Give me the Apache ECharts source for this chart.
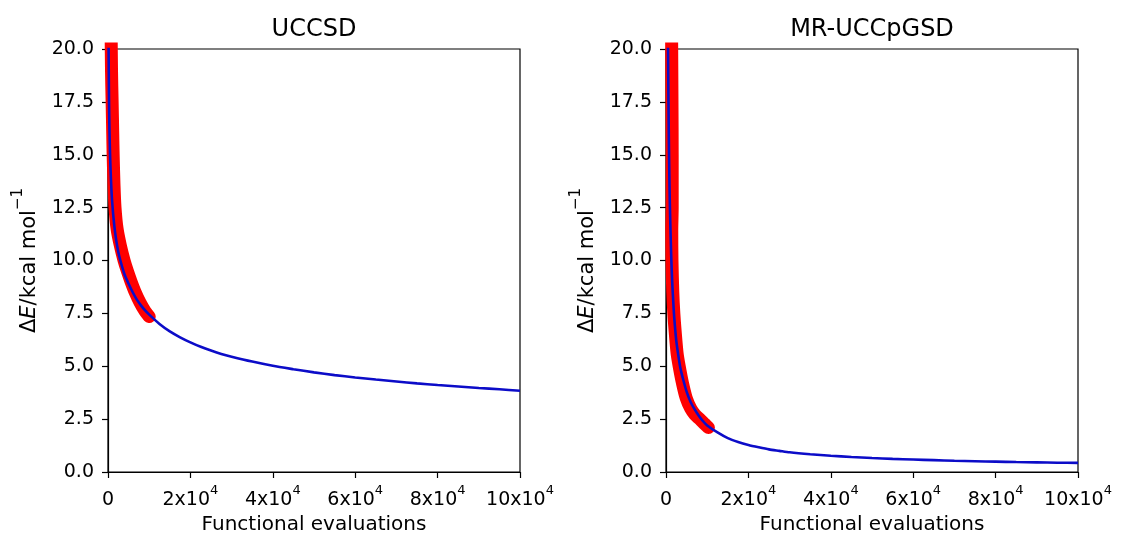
<!DOCTYPE html>
<html>
<head>
<meta charset="utf-8">
<script src="https://cdn.jsdelivr.net/npm/echarts@6/dist/echarts.min.js"></script>
<style>
  html, body { margin: 0; padding: 0; background: #fff; }
  #chart { width: 1121px; height: 538px; }
</style>
</head>
<body>
<div id="chart"></div>
<script>
// Panel titles and axis tick labels
const panelTitles = ['UCCSD', 'MR-UCCpGSD'];
const xTickLabels = ['0', '2x10^4', '4x10^4', '6x10^4', '8x10^4', '10x10^4'];
const yTickLabels = ['0.0', '2.5', '5.0', '7.5', '10.0', '12.5', '15.0', '17.5', '20.0'];

// UCCSD: sampled energy errors (red band) and fitted decay curve (blue)
const uccsdSamples = [
  [750, 21.0], [850, 19.0], [1000, 17.5], [1150, 16.0], [1250, 15.0], [1450, 13.6],
  [1700, 12.5], [2200, 11.5], [3000, 10.7], [3900, 10.0], [4700, 9.5], [5600, 9.0],
  [6600, 8.5], [7800, 8.0], [9000, 7.6], [10000, 7.35]
];
const uccsdFit = [
  [100, 21.5], [150, 19.8], [250, 17.5], [350, 16.2], [500, 15.0], [700, 13.9],
  [1000, 12.8], [1500, 11.7], [2000, 10.95], [2500, 10.4], [3000, 10.0], [4000, 9.35],
  [5000, 8.9], [6000, 8.5], [7000, 8.15], [8000, 7.88], [9000, 7.64], [10000, 7.44],
  [12500, 7.0], [15000, 6.65], [17500, 6.37], [20000, 6.13], [22500, 5.92], [25000, 5.74],
  [27500, 5.58], [30000, 5.45], [35000, 5.22], [40000, 5.02], [45000, 4.86], [50000, 4.71],
  [55000, 4.58], [60000, 4.47], [65000, 4.37], [70000, 4.28], [75000, 4.19], [80000, 4.11],
  [85000, 4.04], [90000, 3.97], [95000, 3.91], [100000, 3.84]
];

// MR-UCCpGSD: sampled energy errors (red band) and fitted decay curve (blue)
const mrSamples = [
  [1350, 21.0], [1450, 17.5], [1500, 15.0], [1500, 12.5], [1400, 11.4], [1450, 10.0],
  [1650, 8.5], [1900, 7.5], [2200, 6.7], [2700, 5.6], [3200, 5.0], [4000, 4.2],
  [4900, 3.5], [6000, 3.0], [7000, 2.72], [8200, 2.5], [9400, 2.27], [10300, 2.1]
];
const mrFit = [
  [300, 28.0], [400, 23.3], [500, 19.9], [600, 17.5], [700, 15.6], [850, 13.5],
  [1000, 12.1], [1250, 10.3], [1500, 9.0], [1750, 8.1], [2000, 7.3], [2500, 6.2],
  [3000, 5.5], [3500, 4.9], [4000, 4.5], [5000, 3.8], [6000, 3.3], [7000, 2.95],
  [8000, 2.65], [9000, 2.4], [10000, 2.2], [12500, 1.87], [15000, 1.6], [17500, 1.42],
  [20000, 1.28], [22500, 1.17], [25000, 1.07], [27500, 1.0], [30000, 0.93], [35000, 0.84],
  [40000, 0.77], [45000, 0.71], [50000, 0.66], [55000, 0.62], [60000, 0.59], [65000, 0.56],
  [70000, 0.53], [75000, 0.51], [80000, 0.49], [85000, 0.47], [90000, 0.455], [95000, 0.44],
  [100000, 0.43]
];

const FONT = 'DejaVu Sans';
const INK = '#000';
const RED = '#ff0000';
const BLUE = '#0c0cc8';

const grids = [
  { left: 108, top: 49, width: 412, height: 423 },
  { left: 666, top: 49, width: 412, height: 423 }
];

function xLabel(v) {
  const s = xTickLabels[Math.round(v / 20000)];
  if (s === undefined) return '';
  const parts = s.split('^');
  return parts.length > 1 ? '{b|' + parts[0] + '}{s|' + parts[1] + '}' : '{b|' + s + '}';
}
function yLabel(v) {
  const s = yTickLabels[Math.round(v / 2.5)];
  return s === undefined ? '' : s;
}

function makeXAxis(i) {
  return {
    type: 'value', gridIndex: i, min: 0, max: 100000, interval: 20000,
    name: 'Functional evaluations', nameLocation: 'middle', nameGap: 43,
    nameTextStyle: { fontFamily: FONT, fontSize: 20, color: INK },
    axisLine: { show: true, lineStyle: { color: INK, width: 1.2 } },
    axisTick: { show: true, length: 6, lineStyle: { color: INK, width: 1.2 } },
    splitLine: { show: false },
    axisLabel: {
      margin: 12, color: INK, fontFamily: FONT, formatter: xLabel,
      showMinLabel: true, showMaxLabel: true,
      rich: {
        b: { fontFamily: FONT, fontSize: 19, color: INK, lineHeight: 26, verticalAlign: 'bottom' },
        s: { fontFamily: FONT, fontSize: 13, color: INK, lineHeight: 14, verticalAlign: 'top' }
      }
    }
  };
}

function makeYAxis(i) {
  return {
    type: 'value', gridIndex: i, min: 0, max: 20, interval: 2.5,
    name: '{d|Δ}{e|E}{d|/kcal mol}{s|−1}', nameLocation: 'middle', nameGap: 68, nameRotate: 90,
    nameTextStyle: {
      color: INK,
      rich: {
        d: { fontFamily: FONT, fontSize: 21, color: INK, lineHeight: 29, verticalAlign: 'bottom' },
        e: { fontFamily: FONT, fontSize: 21, fontStyle: 'italic', color: INK, lineHeight: 29, verticalAlign: 'bottom' },
        s: { fontFamily: FONT, fontSize: 15, color: INK, lineHeight: 16, verticalAlign: 'top' }
      }
    },
    axisLine: { show: true, lineStyle: { color: INK, width: 1.2 } },
    axisTick: { show: true, length: 6, lineStyle: { color: INK, width: 1.2 } },
    splitLine: { show: false },
    axisLabel: { margin: 14, color: INK, fontFamily: FONT, fontSize: 19, formatter: yLabel }
  };
}

function bandSeries(i, data) {
  return {
    type: 'line', xAxisIndex: i, yAxisIndex: i, data: data,
    showSymbol: false, smooth: 0.3, smoothMonotone: 'none', z: 2, silent: true,
    lineStyle: { color: RED, width: 13, cap: 'round', join: 'round' }
  };
}
function fitSeries(i, data) {
  return {
    type: 'line', xAxisIndex: i, yAxisIndex: i, data: data,
    showSymbol: false, smooth: 0.25, z: 3, silent: true,
    lineStyle: { color: BLUE, width: 2.6 }
  };
}

const chart = echarts.init(document.getElementById('chart'), null, { renderer: 'canvas' });
chart.setOption({
  backgroundColor: '#fff',
  animation: false,
  grid: grids.map(g => Object.assign({
    show: true, borderColor: INK, borderWidth: 1.2, backgroundColor: 'transparent',
    containLabel: false, outerBoundsMode: 'none'
  }, g)),
  xAxis: [makeXAxis(0), makeXAxis(1)],
  yAxis: [makeYAxis(0), makeYAxis(1)],
  graphic: panelTitles.map((t, i) => ({
    type: 'text',
    x: grids[i].left + grids[i].width / 2,
    y: 18,
    style: { text: t, fontFamily: FONT, fontSize: 24, fill: INK, align: 'center', verticalAlign: 'top' }
  })),
  series: [
    bandSeries(0, uccsdSamples), fitSeries(0, uccsdFit),
    bandSeries(1, mrSamples), fitSeries(1, mrFit)
  ]
});
</script>
</body>
</html>
